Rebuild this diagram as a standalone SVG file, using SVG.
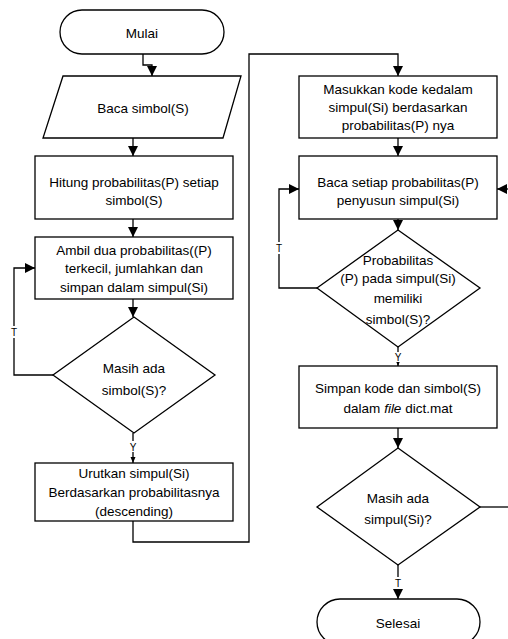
<svg xmlns="http://www.w3.org/2000/svg" width="508" height="639" viewBox="0 0 508 639">
<style>
.s{fill:#fff;stroke:#000;stroke-width:1.3}
.t{font-family:"Liberation Sans",Arial,sans-serif;font-size:13.5px;fill:#000;text-anchor:middle;dominant-baseline:central}
.l{font-family:"Liberation Sans",Arial,sans-serif;font-size:10px;fill:#000;text-anchor:middle;dominant-baseline:central}
.c{fill:none;stroke:#000;stroke-width:1.3}
</style>
<defs>
<marker id="a" markerUnits="userSpaceOnUse" markerWidth="10" markerHeight="10" refX="10" refY="5" orient="auto">
<path d="M0,0 L10,5 L0,10 Z" fill="#000"/>
</marker>
<marker id="as" markerUnits="userSpaceOnUse" markerWidth="6" markerHeight="6" refX="6" refY="3" orient="auto">
<path d="M0,0.5 L6,3 L0,5.5 Z" fill="#000"/>
</marker>
</defs>
<rect width="508" height="639" fill="#fff"/>
<g id="connectors">
<path class="c" d="M143,54 V65 H152 V76" marker-end="url(#a)"/>
<path class="c" d="M133,138 V156" marker-end="url(#a)"/>
<path class="c" d="M133,219 V237" marker-end="url(#a)"/>
<path class="c" d="M133,299 V317" marker-end="url(#a)"/>
<path class="c" d="M53,375 H14 V268 H35" marker-end="url(#a)"/>
<path class="c" d="M133,433 V463" marker-end="url(#as)"/>
<path class="c" d="M133,521 V542 H249 V54 H398 V76" marker-end="url(#a)"/>
<path class="c" d="M398,138 V156" marker-end="url(#a)"/>
<path class="c" d="M398,219 V230" marker-end="url(#a)"/>
<path class="c" d="M317,288 H279 V189 H299" marker-end="url(#a)"/>
<path class="c" d="M398,347 V366" marker-end="url(#as)"/>
<path class="c" d="M398,428 V448" marker-end="url(#a)"/>
<path class="c" d="M398,565 V599" marker-end="url(#a)"/>
<path class="c" d="M480,507 H508"/>
<path class="c" d="M508,189 H497" marker-end="url(#a)"/>
<rect x="9" y="326" width="10" height="12" fill="#fff"/>
<text class="l" x="14" y="332">T</text>
<rect x="128" y="441" width="10" height="11" fill="#fff"/>
<text class="l" x="133" y="447">Y</text>
<rect x="274" y="242" width="10" height="12" fill="#fff"/>
<text class="l" x="279" y="248">T</text>
<rect x="393" y="352" width="10" height="10" fill="#fff"/>
<text class="l" x="398" y="357">Y</text>
<rect x="393" y="577" width="10" height="12" fill="#fff"/>
<text class="l" x="398" y="583">T</text>
</g>
<g id="mulai">
<rect class="s" x="60" y="10" width="164" height="44" rx="22"/>
<text class="t" x="142" y="33">Mulai</text>
</g>
<g id="baca-simbol">
<path class="s" d="M63,76 H241 L223,138 H43 Z"/>
<text class="t" x="143" y="108">Baca simbol(S)</text>
</g>
<g id="hitung">
<rect class="s" x="35" y="156" width="198" height="63"/>
<text class="t" x="134" y="182">Hitung probabilitas(P) setiap</text>
<text class="t" x="134" y="200">simbol(S)</text>
</g>
<g id="ambil">
<rect class="s" x="35" y="237" width="198" height="62"/>
<text class="t" x="134" y="250">Ambil dua probabilitas((P)</text>
<text class="t" x="134" y="268">terkecil, jumlahkan dan</text>
<text class="t" x="134" y="287">simpan dalam simpul(Si)</text>
</g>
<g id="masih-simbol">
<path class="s" d="M134,317 L215,375 L134,433 L53,375 Z"/>
<text class="t" x="134" y="368">Masih ada</text>
<text class="t" x="134" y="390">simbol(S)?</text>
</g>
<g id="urutkan">
<rect class="s" x="35" y="463" width="198" height="58"/>
<text class="t" x="134" y="473">Urutkan  simpul(Si)</text>
<text class="t" x="134" y="492">Berdasarkan probabilitasnya</text>
<text class="t" x="134" y="511">(descending)</text>
</g>
<g id="masukkan">
<rect class="s" x="299" y="76" width="198" height="62"/>
<text class="t" x="398" y="89">Masukkan kode kedalam</text>
<text class="t" x="398" y="107">simpul(Si) berdasarkan</text>
<text class="t" x="398" y="125">probabilitas(P) nya</text>
</g>
<g id="baca-setiap">
<rect class="s" x="299" y="156" width="198" height="63"/>
<text class="t" x="398" y="182">Baca setiap probabilitas(P)</text>
<text class="t" x="398" y="200">penyusun simpul(Si)</text>
</g>
<g id="probabilitas-memiliki">
<path class="s" d="M398,230 L480,288 L398,347 L317,288 Z"/>
<text class="t" x="398" y="260">Probabilitas</text>
<text class="t" x="398" y="278">(P) pada simpul(Si)</text>
<text class="t" x="398" y="298">memiliki</text>
<text class="t" x="398" y="319">simbol(S)?</text>
</g>
<g id="simpan">
<rect class="s" x="299" y="366" width="198" height="62"/>
<text class="t" x="398" y="388">Simpan kode dan simbol(S)</text>
<text class="t" x="398" y="408">dalam <tspan font-style="italic">file</tspan> dict.mat</text>
</g>
<g id="masih-simpul">
<path class="s" d="M398,448 L480,507 L398,565 L317,507 Z"/>
<text class="t" x="398" y="498">Masih ada</text>
<text class="t" x="398" y="519">simpul(Si)?</text>
</g>
<g id="selesai">
<rect class="s" x="317" y="599" width="163" height="46" rx="23"/>
<text class="t" x="398" y="623">Selesai</text>
</g>
</svg>
